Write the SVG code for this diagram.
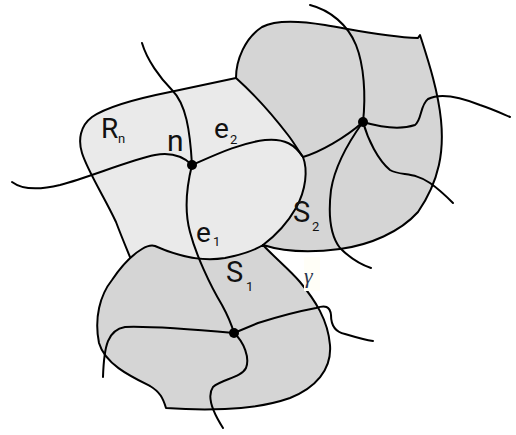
<svg xmlns="http://www.w3.org/2000/svg" width="516" height="435" viewBox="0 0 516 435">
<style>
.ln{fill:none;stroke:#000;stroke-width:2;stroke-linecap:round;stroke-linejoin:round}
.light{fill:#eaeaea;stroke:none}
.dark{fill:#d5d5d5;stroke:none}
.lbl{font-family:Roboto,"Liberation Sans",sans-serif;fill:#111}
.big{font-size:28px}
.bigS{font-size:29px}
.bign{font-size:30px}
.sub{font-size:13px}
.node{fill:#000}
</style>
<rect width="516" height="435" fill="#fff"/>
<g id="region-Rn">
<path class="light" d="M236,78 L170,92 C130,100 105,108 92,117 C80,126 78,140 82,153 C88,172 105,198 116,222 C122,238 128,252 132,262 L140,252 C145,248 150,246 155,246 C175,255 200,262 225,258 C240,255 255,250 263,245 C275,236 288,222 296,208 C306,190 308,170 303,157 C299,152 295,144 288,135 C275,118 255,95 236,78 Z"/>
<path class="ln" d="M236,78 L170,92 C130,100 105,108 92,117 C80,126 78,140 82,153 C88,172 105,198 116,222 C122,238 128,252 132,262"/>
</g>
<g id="region-S2">
<path class="dark" d="M236,78 C236,60 245,38 262,27 C275,20 295,20 325,25 C355,30 385,37 418,38 L420,35 C428,60 438,90 441,120 C444,150 440,180 418,212 C400,232 370,245 340,249 C310,253 285,252 263,245 C275,236 288,222 296,208 C306,190 308,170 303,157 C299,152 295,144 288,135 C275,118 255,95 236,78 Z"/>
<path class="ln" d="M236,78 C236,60 245,38 262,27 C275,20 295,20 325,25 C355,30 385,37 418,38 L420,35 C428,60 438,90 441,120 C444,150 440,180 418,212 C400,232 370,245 340,249 C310,253 285,252 263,245"/>
<path class="ln" d="M236,78 C255,95 275,118 288,135 C295,144 299,152 303,157"/>
<path class="ln" d="M303,157 C308,170 306,190 296,208 C288,222 275,236 263,245"/>
</g>
<g id="region-S1">
<path class="dark" d="M263,245 C275,258 290,270 300,282 C315,300 328,320 330,345 C332,370 315,388 290,398 C270,405 250,408 225,409 C200,410 180,409 166,408 C163,398 160,392 150,386 C130,376 105,364 99,343 C94,318 100,295 112,280 C120,268 132,255 142,249 C147,246 152,245 155,246 C175,255 200,262 225,258 C240,255 255,250 263,245 Z"/>
<path class="ln" d="M263,245 C275,258 290,270 300,282 C315,300 328,320 330,345 C332,370 315,388 290,398 C270,405 250,408 225,409 C200,410 180,409 166,408 C163,398 160,392 150,386 C130,376 105,364 99,343 C94,318 100,295 112,280 C120,268 132,255 142,249 C147,246 152,245 155,246 C175,255 200,262 225,258 C240,255 255,250 263,245"/>
</g>
<g id="connectors">
<path class="ln" d="M142,43 C147,60 160,78 172,90 C186,104 190,130 192,165 C187,185 184,210 190,232 C196,255 210,285 222,305 C228,316 232,326 234,333 C244,342 250,358 246,368 C241,378 222,379 213,387 C206,397 214,414 223,428"/>
<path class="ln" d="M12,182 C20,188 35,191 60,185 C90,177 130,160 155,155 C172,152 183,156 192,165"/>
<path class="ln" d="M192,165 C215,155 240,143 265,140 C285,138 295,145 303,157"/>
<path class="ln" d="M303,157 C320,152 345,138 363,122"/>
<path class="ln" d="M310,5 C330,10 348,25 356,45 C364,65 366,95 363,122"/>
<path class="ln" d="M363,122 C368,140 378,160 390,170 C400,176 415,172 430,183 C440,190 448,198 453,203"/>
<path class="ln" d="M363,122 C350,140 335,165 331,190 C328,215 330,235 340,248 C350,258 362,265 371,268"/>
<path class="ln" d="M363,122 C380,127 400,130 415,125 C422,120 420,105 428,99 C440,93 460,97 480,105 C495,110 505,115 510,117"/>
<path class="ln" d="M234,333 C200,330 150,326 125,327 C108,330 104,345 103,377"/>
<path class="ln" d="M234,333 L258,323 C280,316 300,311 316,308 C325,305 330,306 331,315 C331,325 335,332 345,334 C355,337 365,340 373,341"/>
</g>
<g id="node-n"><circle class="node" cx="192" cy="165" r="5"/></g>
<g id="node-top"><circle class="node" cx="363" cy="122" r="5"/></g>
<g id="node-bottom"><circle class="node" cx="234" cy="333" r="5"/></g>
<g id="labels">
<text class="lbl big" x="101" y="138">R</text><text class="lbl sub" x="118" y="143">n</text>
<text class="lbl bign" x="167" y="151">n</text>
<text class="lbl big" x="214" y="138">e</text><text class="lbl sub" x="230" y="144">2</text>
<text class="lbl big" x="196" y="242">e</text><text class="lbl sub" x="213" y="246">1</text>
<text class="lbl bigS" x="226" y="282">S</text><text class="lbl sub" x="246" y="291">1</text>
<text class="lbl bigS" x="293" y="222">S</text><text class="lbl sub" x="312" y="231">2</text>
<rect x="304" y="257" width="16" height="34" fill="#fffef7"/>
<text x="304" y="283" font-family="'Liberation Serif',serif" font-style="italic" font-size="22" fill="#2a3550">γ</text>
</g>
</svg>
